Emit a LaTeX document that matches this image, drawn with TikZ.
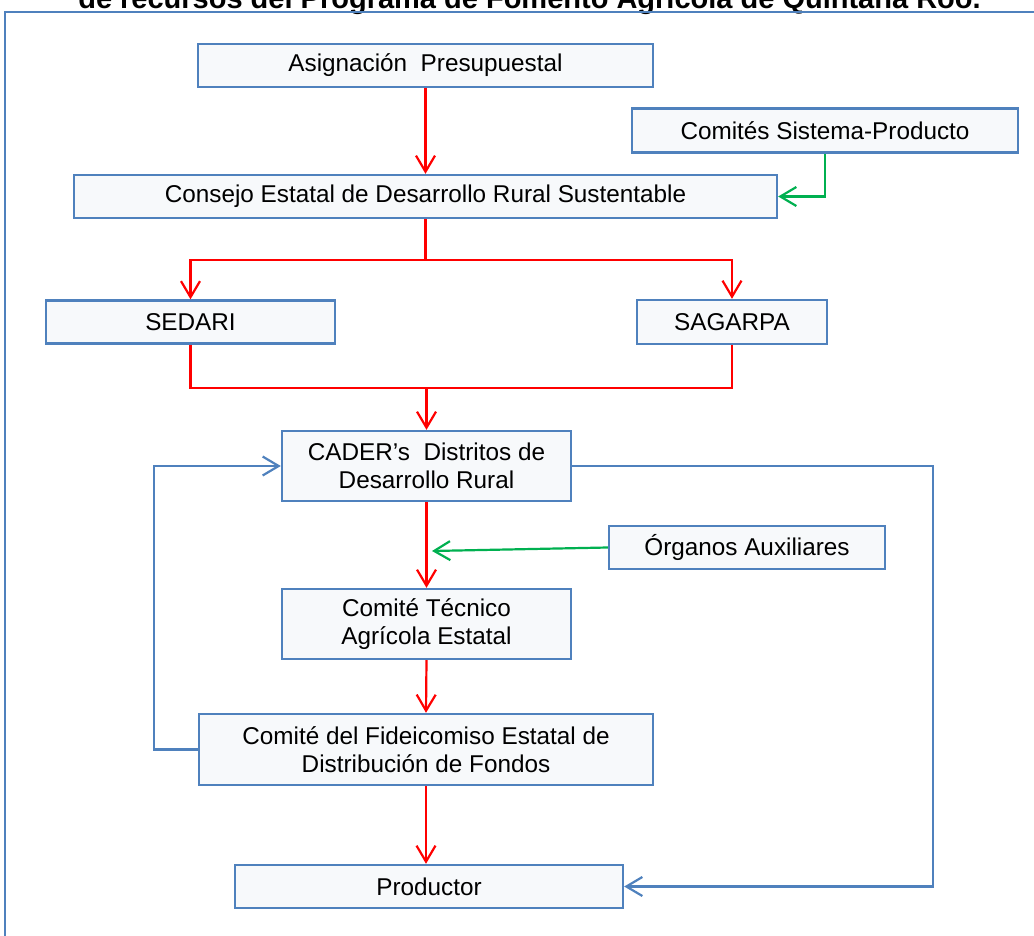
\documentclass[tikz,border=0pt]{standalone}
\usepackage{fontspec}
\setmainfont{Liberation Sans}
\usetikzlibrary{arrows.meta}
\definecolor{boxblue}{RGB}{79,129,189}
\definecolor{boxfill}{RGB}{247,249,251}
\definecolor{arrred}{RGB}{255,0,0}
\definecolor{arrgreen}{RGB}{0,176,80}
\tikzset{
  flowbox/.style={draw=boxblue, line width=2.4pt, fill=boxfill, inner sep=0pt,
    align=center, font=\fontsize{24.3}{28.4}\selectfont},
  barb/.style={-{Straight Barb[length=16pt,width=19pt,line width=2.2pt]}},
  redline/.style={draw=arrred, line width=2.2pt},
  redarr/.style={redline, barb},
  greenarr/.style={draw=arrgreen, line width=2.2pt, barb},
  bluearr/.style={draw=boxblue, line width=2.2pt, barb},
  frameline/.style={draw=boxblue, line width=2.2pt}
}
\begin{document}
\begin{tikzpicture}[x=1pt,y=-1pt]
\useasboundingbox (0,0) rectangle (1034,936);
\clip (0,0) rectangle (1034,936);
% title (cut off at top, as in the reference)
\node[anchor=base, inner sep=0pt, font=\fontsize{29}{34}\selectfont\bfseries] (title) at (529.5,8.5)
  {de recursos del Programa de Fomento Agrícola de Quintana Roo.};
% outer frame
\draw[frameline] (5,12) rectangle (1045,950);

% boxes
\node[flowbox, minimum width=455pt, minimum height=43pt] (asig) at (425.5,65.5) {Asignación\ \ Presupuestal};
\node[flowbox, minimum width=386pt, minimum height=44pt] (comites) at (825,130.5) {Comités Sistema-Producto};
\node[flowbox, minimum width=703pt, minimum height=43pt] (consejo) at (425.5,196.5) {Consejo Estatal de Desarrollo Rural Sustentable};
\node[flowbox, minimum width=289pt, minimum height=43pt] (sedari) at (190.5,322) {SEDARI};
\node[flowbox, minimum width=190pt, minimum height=44pt] (sagarpa) at (732,322) {SAGARPA};
\node[flowbox, minimum width=289pt, minimum height=70pt] (cader) at (426.5,466) {CADER’s\ \ Distritos de\\Desarrollo Rural};
\node[flowbox, minimum width=276pt, minimum height=43pt] (organos) at (747,547.5) {Órganos Auxiliares};
\node[flowbox, minimum width=289pt, minimum height=70pt] (tecnico) at (426.5,624) {Comité Técnico\\Agrícola Estatal};
\node[flowbox, minimum width=454pt, minimum height=71pt] (fide) at (426,749.5) {Comité del Fideicomiso Estatal de\\Distribución de Fondos};
\node[flowbox, minimum width=388pt, minimum height=43pt] (prod) at (429,886.5) {Productor};

% red flow
\draw[redarr] (asig.south) -- (consejo.north);
\draw[redline] (consejo.south) -- ++(0,41) coordinate (j1);
\draw[redarr] (j1) -| (sedari.north);
\draw[redarr] (j1) -| (sagarpa.north);
\draw[redline] (sedari.south) -- ++(0,43) -| (sagarpa.south);
\coordinate (j2) at (426.5,387);
\draw[redarr] (j2) -- (cader.north);
\draw[redarr] (cader.south) -- (tecnico.north);
\draw[redarr] (tecnico.south) -- (fide.north);
\draw[redarr] (fide.south) -- (fide.south |- prod.north);

% green
\draw[greenarr] (comites.south) |- (consejo.east);
\coordinate (g1) at (432,551);
\draw[greenarr] (organos.west) -- (g1);

% blue loops
\draw[bluearr] (fide.west) -- ++(-44,0) |- (cader.west);
\draw[bluearr] (cader.east) -- ++(361,0) |- (prod.east);
\end{tikzpicture}
\end{document}
